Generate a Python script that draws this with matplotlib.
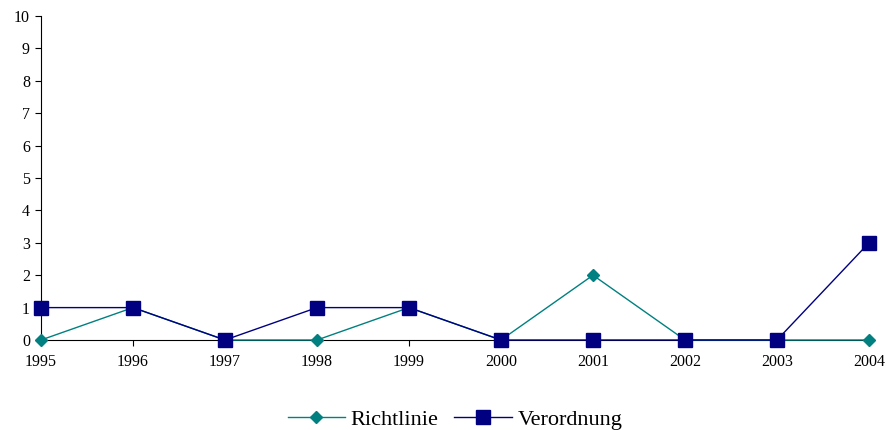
import matplotlib.pyplot as plt

years = [1995, 1996, 1997, 1998, 1999, 2000, 2001, 2002, 2003, 2004]
richtlinie = [0, 1, 0, 0, 1, 0, 2, 0, 0, 0]
verordnung = [1, 1, 0, 1, 1, 0, 0, 0, 0, 3]

plt.rcParams['font.family'] = ['Liberation Serif', 'DejaVu Serif']

fig = plt.figure(figsize=(8.91, 4.30), dpi=100)
ax = fig.add_axes([41 / 891, 90 / 430, 828 / 891, 324 / 430])

ax.plot(years, richtlinie, color='#008080', lw=1, marker='D', ms=6.5,
        label='Richtlinie', clip_on=False, zorder=3)
ax.plot(years, verordnung, color='#000080', lw=1, marker='s', ms=10,
        label='Verordnung', clip_on=False, zorder=4)

ax.set_xlim(1995, 2004)
ax.set_ylim(0, 10)
ax.set_xticks(years)
ax.set_yticks(range(0, 11))
ax.tick_params(labelsize=11.5, length=4, width=0.8, direction='out')
ax.tick_params(axis='x', pad=6)
ax.tick_params(axis='y', pad=4)
for s in ['top', 'right']:
    ax.spines[s].set_visible(False)
for s in ['left', 'bottom']:
    ax.spines[s].set_linewidth(0.8)

ax.legend(loc='center', bbox_to_anchor=(0.5, -0.245), ncol=2, frameon=False,
          fontsize=16, handlelength=2.6, columnspacing=0.7, handletextpad=0.25)

fig.savefig('out.png', dpi=100)
